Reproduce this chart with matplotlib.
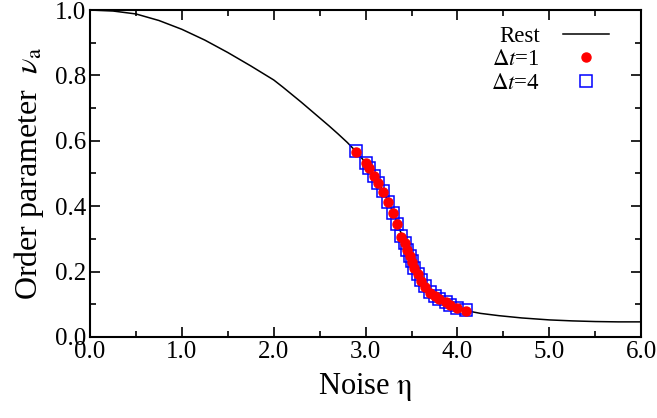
import numpy as np
import matplotlib
matplotlib.use('Agg')
import matplotlib.pyplot as plt

plt.rcParams['font.family'] = ['Liberation Serif', 'DejaVu Serif']
plt.rcParams['mathtext.fontset'] = 'stix'

# "Rest" curve
rest_eta = [0.0, 0.25, 0.5, 0.75, 1.0, 1.25, 1.5, 1.75, 2.0, 2.1, 2.2, 2.3, 2.4,
            2.5, 2.6, 2.7, 2.8, 2.9, 3.0, 3.1, 3.2, 3.3, 3.4, 3.5, 3.6, 3.7,
            3.8, 3.9, 4.0, 4.1, 4.25, 4.45, 4.7, 5.0, 5.25, 5.5, 5.75, 6.0]
rest_v = [1.0, 0.997, 0.988, 0.968, 0.941, 0.908, 0.870, 0.829, 0.786, 0.764,
          0.741, 0.718, 0.694, 0.670, 0.646, 0.621, 0.595, 0.566, 0.533, 0.490,
          0.442, 0.381, 0.307, 0.232, 0.175, 0.136, 0.115, 0.101, 0.089, 0.080,
          0.072, 0.065, 0.058, 0.052, 0.049, 0.047, 0.046, 0.046]

# simulation points (dt=1 and dt=4 overlap)
eta_pts = [2.89, 3.00, 3.04, 3.09, 3.14, 3.19, 3.24, 3.30, 3.34, 3.39, 3.43, 3.45,
           3.48, 3.505, 3.53, 3.57, 3.605, 3.65, 3.70, 3.75, 3.80, 3.87, 3.92,
           3.99, 4.09]
v_dt1 = [0.567, 0.533, 0.516, 0.492, 0.470, 0.444, 0.413, 0.380, 0.345, 0.307,
         0.286, 0.266, 0.248, 0.230, 0.210, 0.192, 0.172, 0.154, 0.135, 0.125,
         0.115, 0.106, 0.098, 0.088, 0.080]
v_dt4 = [0.568, 0.533, 0.517, 0.493, 0.471, 0.445, 0.414, 0.380, 0.346, 0.308,
         0.287, 0.267, 0.249, 0.231, 0.211, 0.193, 0.173, 0.155, 0.136, 0.126,
         0.116, 0.107, 0.099, 0.089, 0.081]

fig = plt.figure(figsize=(6.57, 4.18), dpi=100)
ax = fig.add_axes([0.137, 0.194, 0.839, 0.782])

l_rest, = ax.plot(rest_eta, rest_v, 'k-', lw=1.1, label='Rest', zorder=1)
l4, = ax.plot(eta_pts, v_dt4, 's', ls='none', mfc='none', mec='#0000ff', mew=1.1,
              ms=8, label=r'$\Delta t$=4', zorder=2)
l1, = ax.plot(eta_pts, v_dt1, 'o', ls='none', color='#ff0000', ms=6.5,
              label=r'$\Delta t$=1', zorder=3)

ax.set_xlim(0, 6)
ax.set_ylim(0, 1)
ax.set_xticks(np.arange(0, 6.01, 1.0))
ax.set_xticks(np.arange(0, 6.01, 0.5), minor=True)
ax.set_yticks(np.arange(0, 1.01, 0.2))
ax.set_yticks(np.arange(0, 1.01, 0.1), minor=True)
ax.set_xticklabels(['%.1f' % t for t in np.arange(0, 6.01, 1.0)])
ax.set_yticklabels(['%.1f' % t for t in np.arange(0, 1.01, 0.2)])
ax.tick_params(which='both', direction='in', top=True, right=True, labelsize=18, width=1.2)
ax.tick_params(which='major', length=7, pad=3)
ax.tick_params(which='minor', length=4)
for s in ax.spines.values():
    s.set_linewidth(1.5)

ax.set_xlabel(r'Noise $\mathrm{\eta}$', fontsize=22, labelpad=6)
ax.set_ylabel(r'Order parameter  $\nu_{\mathrm{a}}$', fontsize=23, labelpad=6)

ax.legend(handles=[l_rest, l1, l4], loc='upper right', frameon=False,
          markerfirst=False, fontsize=16.5, handlelength=2.0, handletextpad=1.0,
          labelspacing=0.1, borderaxespad=0.3, bbox_to_anchor=(0.97, 1.0))

plt.savefig('out.png', dpi=100)
